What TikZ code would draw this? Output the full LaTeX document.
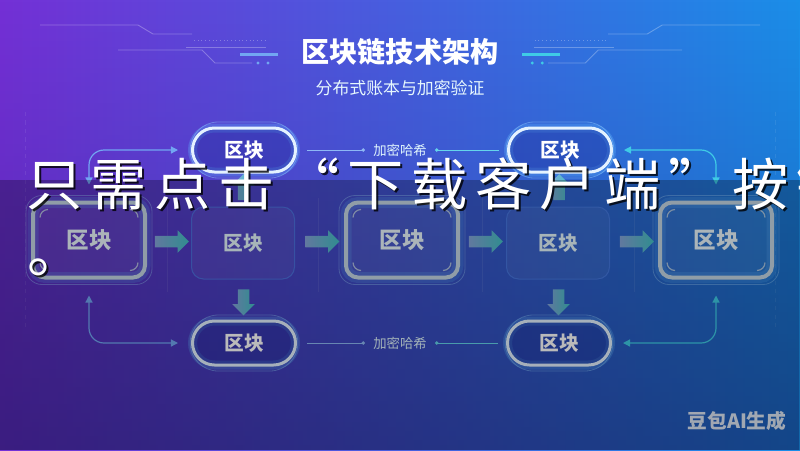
\documentclass[tikz,border=0pt]{standalone}
\usepackage{fontspec}
\newfontfamily\cjk{Noto Sans CJK SC}
\usetikzlibrary{arrows.meta,positioning,shapes.misc,shapes.arrows,calc,fadings}
\definecolor{bgL}{HTML}{7430D6}
\definecolor{bgM}{HTML}{3B4ED6}
\definecolor{bgR}{HTML}{1A8EE8}
\definecolor{bgdeep}{HTML}{1C1C78}
\definecolor{frost}{HTML}{E4F2FF}
\definecolor{glow}{HTML}{5FB4FF}
\definecolor{steel}{HTML}{C6D8E6}
\definecolor{linkblue}{HTML}{72A6F2}
\definecolor{linkcyan}{HTML}{3FCBE6}
\definecolor{arrL}{HTML}{86A6DA}
\definecolor{arrR}{HTML}{43C2C6}
\definecolor{deepfill}{HTML}{1E2A96}
\newdimen\pxu \pxu=0.025cm
\newcommand{\hugecjk}{\cjk\fontsize{40}{40}\selectfont}
\tikzset{
  pill/.style={rounded rectangle,draw=frost,line width=3\pxu,fill=deepfill,fill opacity=0.35,
    text opacity=1,text=white,minimum width=103\pxu,minimum height=44\pxu,inner sep=0pt,
    font=\cjk\bfseries\fontsize{14}{16}\selectfont,
    preaction={draw=glow,line width=9\pxu,draw opacity=0.3}},
  halo/.style={rounded rectangle,draw=glow!70!white,line width=0.8\pxu,draw opacity=0.45,
    minimum width=117\pxu,minimum height=56\pxu},
  bigbox/.style={rectangle,rounded corners=12\pxu,draw=steel,line width=4\pxu,fill=white,
    fill opacity=0.06,text opacity=1,text=white!92!cyan,minimum width=112\pxu,minimum height=75\pxu,
    font=\cjk\bfseries\fontsize{16}{18}\selectfont,
    preaction={draw=glow,line width=11\pxu,draw opacity=0.22}},
  boxhalo/.style={rectangle,rounded corners=16\pxu,draw=glow!60!white,line width=0.8\pxu,
    draw opacity=0.4,minimum width=126\pxu,minimum height=89\pxu},
  dimbox/.style={rectangle,rounded corners=12\pxu,draw=glow!50!bgM,line width=1\pxu,draw opacity=0.7,
    fill=white,fill opacity=0.05,text opacity=1,text=white!90!cyan,minimum width=103\pxu,
    minimum height=72\pxu,font=\cjk\bfseries\fontsize{14}{16}\selectfont},
  blockarrow/.style={single arrow,left color=arrL,right color=arrR,draw=none,inner xsep=0pt,
    inner ysep=5.5\pxu,single arrow head extend=5.5\pxu,minimum height=#1},
  blockarrow/.default=34\pxu,
  tick/.style={draw=steel,line width=1.2\pxu,draw opacity=0.8},
  linkL/.style={draw=linkblue,line width=1.2\pxu,{Triangle[length=5pt,width=5pt]}-{Triangle[length=5pt,width=5pt]},
    rounded corners=15\pxu},
  linkR/.style={linkL,draw=linkcyan},
  hashlbl/.style={text=white!88!cyan,inner sep=0pt,font=\cjk\fontsize{9.5}{11}\selectfont},
  hashL/.style={draw=linkblue!80!white,line width=1\pxu,-{Circle[length=2.5pt]},shorten <=10\pxu,shorten >=8\pxu},
  hashR/.style={draw=linkcyan!80!white,line width=1\pxu,{Circle[length=2.5pt]}-,shorten <=8\pxu,shorten >=8\pxu},
  deco/.style={draw=white,draw opacity=0.28,line width=0.9\pxu},
  panel/.style={draw=white,draw opacity=0.08,line width=1\pxu},
  wmark/.style={text=white,text opacity=0.85,font=\cjk\bfseries\fontsize{14}{16}\selectfont},
  bigshade/.style={anchor=base west,inner sep=0pt,text=black,text opacity=0.8,font=\hugecjk},
  bigtext/.style={anchor=base west,inner sep=0pt,text=white,font=\hugecjk},
}
\begin{document}
\begin{tikzpicture}[x=0.025cm,y=-0.025cm]
  \useasboundingbox (0,0) rectangle (800,450);
  \begin{scope}
    \clip (0,0) rectangle (800,450);
    % background
    \shade[left color=bgL,middle color=bgM,right color=bgR] (0,0) rectangle (800,450);
    \fill[bgdeep,path fading=north,fill opacity=0.4] (0,0) rectangle (800,450);
    % circuit lines beside the title
    \foreach \s/\c in {1/linkblue,-1/linkcyan}{
      \begin{scope}[xscale=\s,xshift={(\s-1)*10cm}]
        \draw[deco] (40,25) -- (138,25) -- (153,34) -- (192,34);
        \draw[deco] (186,47) -- (266,47);
        \draw[deco,dotted] (194,40) -- (266,40);
        \draw[deco] (118,50) -- (202,50) -- (215,63) -- (252,63);
        \draw[\c,line width=3\pxu] (240,54) -- (278,54);
        \fill[\c] (258,63) circle (1.6) (268,63) circle (1.6);
      \end{scope}
    }
    \node[text=white,font=\cjk\bfseries\fontsize{20}{24}\selectfont] (title) at (400,52) {区块链技术架构};
    \node[text=white!90!cyan,font=\cjk\fontsize{12}{14}\selectfont] (subtitle) at (400,88) {分布式账本与加密验证};
    % faint frame lines
    \foreach \x in {167,318,482,634} \draw[panel] (\x,198) -- (\x,292);
    \foreach \x in {25,775} \draw[panel,dashed] (\x,112) -- (\x,330);
    % blocks
    \node[pill] (pt1) at (244,150) {区块};
    \node[pill] (pt2) at (560,150) {区块};
    \node[pill] (pb1) at (244,343) {区块};
    \node[pill] (pb2) at (559,343) {区块};
    \foreach \p in {pt1,pt2,pb1,pb2} \node[halo] (\p-ring) at (\p) {};
    \node[bigbox] (b1) at (89,240) {区块};
    \node[dimbox] (b2) at (243,243) {区块};
    \node[bigbox] (b3) at (402,240) {区块};
    \node[dimbox] (b4) at (558,243) {区块};
    \node[bigbox] (b5) at (716,240) {区块};
    \foreach \b in {b1,b3,b5}{
      \node[boxhalo] (\b-ring) at (\b) {};
      \draw[tick] ($(\b.north west)+(9,17)$) arc[start angle=180,end angle=270,radius=8];
      \draw[tick] ($(\b.north east)+(-17,9)$) arc[start angle=270,end angle=360,radius=8];
      \draw[tick] ($(\b.south east)+(-9,-17)$) arc[start angle=0,end angle=90,radius=8];
      \draw[tick] ($(\b.south west)+(17,-9)$) arc[start angle=90,end angle=180,radius=8];
    }
    % chain arrows
    \path (b1) -- (b2) node[midway,blockarrow] (a12) {};
    \path (b2) -- (b3) node[midway,blockarrow] (a23) {};
    \path (b3) -- (b4) node[midway,blockarrow] (a34) {};
    \path (b4) -- (b5) node[midway,blockarrow] (a45) {};
    \path (b2) -- (pt1) node[midway,blockarrow=26\pxu,rotate=90] (u2) {};
    \path (b4) -- (pt2) node[midway,blockarrow=26\pxu,rotate=90] (u4) {};
    \path (b2) -- (pb1) node[midway,blockarrow=26\pxu,rotate=-90] (d2) {};
    \path (b4) -- (pb2) node[midway,blockarrow=26\pxu,rotate=-90] (d4) {};
    % side links
    \draw[linkL,shorten <=16\pxu,shorten >=13\pxu] (b1.north) |- (pt1.west);
    \draw[linkL,shorten <=16\pxu,shorten >=13\pxu] (b1.south) |- (pb1.west);
    \draw[linkR,shorten <=16\pxu,shorten >=11\pxu] (b5.north) |- (pt2.east);
    \draw[linkR,shorten <=16\pxu,shorten >=11\pxu] (b5.south) |- (pb2.east);
    % hash labels
    \node[hashlbl] (k1) at (400,150) {加密哈希};
    \node[hashlbl] (k2) at (400,343) {加密哈希};
    \draw[hashL] (pt1.east) -- (k1.west);
    \draw[hashR] (k1.east) -- (pt2.west);
    \draw[hashL] (pb1.east) -- (k2.west);
    \draw[hashR] (k2.east) -- (pb2.west);
    \node[wmark] (wm) at (737,421) {豆包AI生成};
    % caption band
    \fill[black,fill opacity=0.27] (0,180) rectangle (800,450);
    \foreach \c [count=\i from 0] in {只,需,点,击,“,下,载,客,户,端,”,按,钮}{
      \node[bigshade] (s\i) at (28+64.2*\i,207) {\c};
      \node[bigtext] (t\i) at (26+64.2*\i,205) {\c};
    }
    \node[bigshade] (s13) at (29,274) {。};
    \node[bigtext] (t13) at (27,272) {。};
  \end{scope}
\end{tikzpicture}
\end{document}
